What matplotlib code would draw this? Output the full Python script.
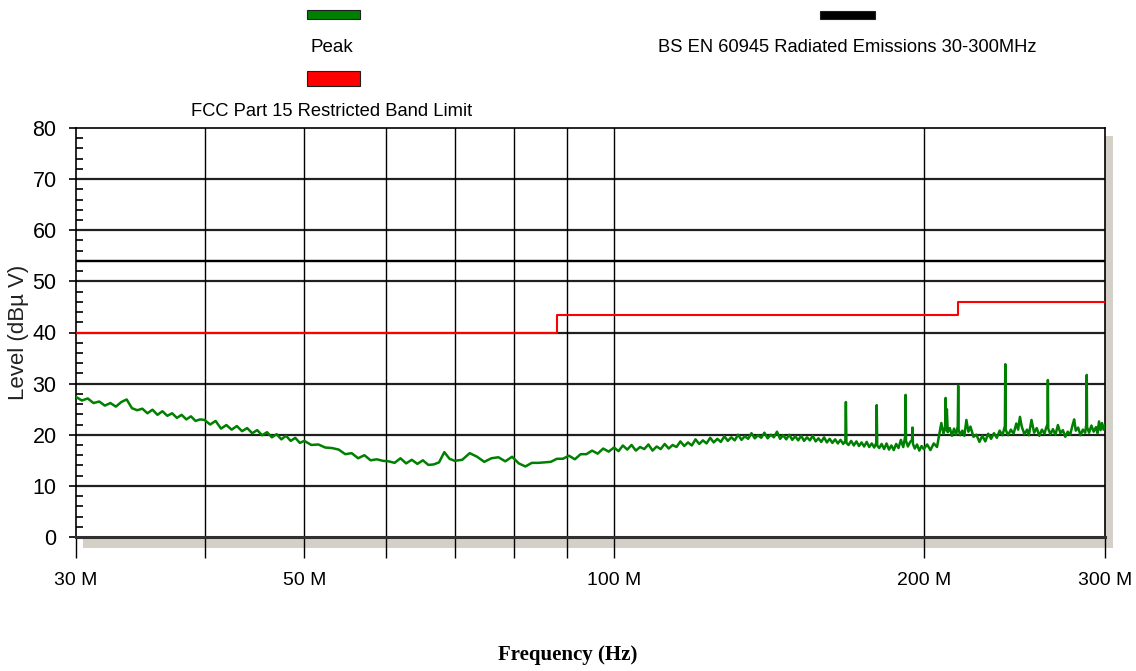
import numpy as np
import matplotlib
matplotlib.use("Agg")
import matplotlib.pyplot as plt
from matplotlib.patches import Rectangle
from matplotlib.ticker import FixedLocator, FixedFormatter, NullLocator

plt.rcParams['font.family'] = ['Liberation Sans', 'DejaVu Sans']

# Peak sweep, frequency in MHz, level in dBuV
peak_freq = [
    30.0, 30.4, 30.8, 31.2, 31.6, 32.0, 32.4, 32.8, 33.2, 33.6, 34.0, 34.4, 34.8,
    35.2, 35.6, 36.0, 36.4, 36.8, 37.2, 37.6, 38.0, 38.4, 38.8, 39.2, 39.6, 40.0,
    40.5, 41.0, 41.5, 42.0, 42.5, 43.0, 43.5, 44.0, 44.5, 45.0, 45.5, 46.0, 46.5,
    47.0, 47.5, 48.0, 48.5, 49.0, 49.5, 50.0,
    50.8, 51.6, 52.4, 53.2, 54.0, 54.8, 55.6, 56.4, 57.2, 58.0, 58.8, 59.6, 60.4,
    61.2, 62.0, 62.8, 63.6, 64.4, 65.2, 66.0, 66.8, 67.6, 68.4, 69.2, 70.0,
    71.2, 72.4, 73.6, 74.8, 76.0, 77.2, 78.4, 79.6, 80.8, 82.0, 83.2, 84.4, 85.6,
    86.8, 88.0, 89.2, 90.4, 91.6, 92.8, 94.0, 95.2, 96.4, 97.6, 98.8, 100.0,
    101, 102, 103, 104, 105, 106, 107, 108, 109, 110, 111, 112, 113, 114, 115,
    116, 117, 118, 119, 120, 121, 122, 123, 124, 125, 126, 127, 128, 129, 130,
    131, 132, 133, 134, 135, 136, 137, 138, 139, 140, 141, 142, 143, 144, 145,
    146, 147, 148, 149, 150, 151, 152, 153, 154, 155, 156, 157, 158, 159, 160,
    161, 162, 163, 164, 165, 166, 167, 167.8, 168, 168.2, 169, 170, 171, 172, 173,
    174, 175, 176, 177, 178, 179, 179.8, 180, 180.2, 181, 182, 183, 184, 185, 186,
    187, 188, 189, 190, 191, 191.8, 192, 192.2, 193, 194, 194.8, 195, 195.2, 196,
    197, 198, 199, 200,
    201.5, 203, 204.5, 206, 207, 208, 209, 209.8, 210, 210.2, 210.6, 211, 212, 213,
    214, 215, 215.8, 216, 216.2, 217, 218, 219, 220, 221, 222, 223.5, 225, 226.5,
    228, 229.5, 231, 232.5, 234, 235.5, 237, 238.5, 239.8, 240, 240.2, 241.5, 243,
    244.5, 246, 247, 248, 249, 250.5, 252, 253, 254.5, 256, 257.5, 259, 260.5, 262,
    263, 263.8, 264, 264.2, 265.5, 267, 268.5, 270, 271.5, 273, 274.5, 276, 277.5,
    279, 280, 281, 282.5, 284, 285.5, 287, 287.8, 288, 288.2, 289.5, 291, 292.5,
    294, 295, 296, 297, 298, 299, 300,
]
peak_level = [
    27.4, 26.7, 27.1, 26.2, 26.5, 25.7, 26.2, 25.5, 26.4, 26.9, 25.2, 24.8, 25.1,
    24.2, 24.9, 23.9, 24.6, 23.7, 24.2, 23.3, 23.9, 23.0, 23.6, 22.7, 23.0, 22.9,
    22.0, 22.7, 21.2, 21.9, 21.0, 21.7, 20.7, 21.3, 20.3, 20.9, 19.9, 20.5, 19.5,
    20.1, 19.1, 19.8, 18.8, 19.4, 18.4, 18.8,
    18.0, 18.1, 17.5, 17.4, 17.1, 16.2, 16.4, 15.4, 16.0, 15.0, 15.2, 14.9, 14.8,
    14.5, 15.4, 14.4, 15.1, 14.3, 15.0, 14.1, 14.2, 14.6, 16.6, 15.3, 14.9,
    15.1, 16.4, 15.7, 14.7, 15.4, 15.6, 14.8, 15.7, 14.4, 13.8, 14.5, 14.5, 14.6,
    14.7, 15.3, 15.3, 15.9, 15.2, 16.2, 16.2, 16.9, 16.3, 17.3, 16.7, 17.5,
    16.8, 17.9, 17.1, 18.0, 16.9, 17.6, 17.2, 18.1, 16.9, 17.7, 17.2, 18.2, 17.3, 18.0, 17.6,
    18.7, 17.8, 18.5, 17.9, 19.1, 18.2, 18.9, 18.3, 19.4, 18.5, 19.2, 18.6, 19.7, 18.8, 19.5,
    18.9, 20.0, 19.0, 19.7, 19.2, 20.3, 19.3, 19.9, 19.4, 20.4, 19.3, 20.0, 19.5, 20.6, 19.2,
    19.9, 19.1, 20.0, 19.0, 19.7, 18.9, 19.8, 18.8, 19.5, 18.9, 19.8, 18.7, 19.3, 18.6, 19.5,
    18.5, 19.2, 18.4, 19.1, 18.3, 19.0, 18.2, 18.8, 26.4, 18.4, 18.0, 18.8, 17.9, 18.7, 17.8,
    18.5, 17.7, 18.6, 17.6, 18.3, 17.5, 18.4, 25.8, 17.9, 17.4, 18.2, 17.2, 18.3, 17.1, 17.9,
    17.0, 18.2, 17.4, 19.0, 17.6, 19.6, 27.8, 18.8, 17.7, 18.6, 19.0, 21.4, 18.2, 17.3,
    18.1, 16.9, 17.8, 17.2,
    18.1, 17.0, 18.3, 17.6, 19.9, 22.3, 20.2, 21.6, 27.2, 20.9, 25.0, 20.5, 21.3, 19.8,
    21.2, 20.0, 21.7, 29.6, 21.0, 19.9, 20.8, 19.8, 22.9, 20.6, 21.6, 19.6, 20.0, 18.6,
    19.8, 18.7, 20.2, 19.2, 20.3, 19.4, 20.8, 19.9, 21.7, 33.8, 21.0, 19.9, 21.0,
    20.2, 22.2, 21.0, 23.5, 21.6, 20.1, 21.0, 19.9, 22.9, 20.4, 21.3, 19.8, 21.0, 20.2,
    21.4, 22.0, 30.7, 21.2, 20.1, 21.1, 20.0, 21.9, 20.3, 20.9, 19.6, 20.6, 20.0,
    21.9, 23.0, 20.8, 21.4, 19.9, 21.0, 20.4, 22.3, 31.7, 21.5, 20.4, 21.8, 20.6,
    21.5, 20.3, 22.6, 20.9, 22.3, 21.0, 21.9,
]

# FCC Part 15 restricted band limit (step edges)
fcc_freq = [30, 88, 88, 216, 216, 300]
fcc_level = [40, 40, 43.5, 43.5, 46, 46]

# BS EN 60945 limit
en_freq = [30, 300]
en_level = [54, 54]

x_ticks = [30, 40, 50, 60, 70, 80, 90, 100, 200, 300]
x_labels = ['30 M', '', '50 M', '', '', '', '', '100 M', '200 M', '300 M']
y_ticks = [0, 10, 20, 30, 40, 50, 60, 70, 80]

W, H = 1136, 671
fig = plt.figure(figsize=(W / 100, H / 100), dpi=100)
ax = fig.add_axes([76 / W, 1 - 537 / H, 1029 / W, 409 / H])

ax.set_xscale('log')
ax.set_xlim(30, 300)
ax.set_ylim(0, 80)

# grid
for y in y_ticks[1:-1] + [54]:
    ax.axhline(y, color='#202020', lw=1.6, zorder=1)
for x in x_ticks[1:-1]:
    ax.axvline(x, color='black', lw=1.0, zorder=1)

ax.plot(en_freq, en_level, color='black', lw=1.6, zorder=2)
ax.plot(fcc_freq, fcc_level, color='#ff0000', lw=1.5, zorder=3)
ax.plot(peak_freq, peak_level, color='#008000', lw=1.8, zorder=4)

# drop shadow
shadow = '#d4d0c8'
ax.add_patch(Rectangle((0.007, -0.027), 1.001, 0.027, transform=ax.transAxes,
                       color=shadow, clip_on=False, zorder=0.5, lw=0))
ax.add_patch(Rectangle((1.0, -0.027), 0.008, 1.007, transform=ax.transAxes,
                       color=shadow, clip_on=False, zorder=0.5, lw=0))

for s in ['left', 'right', 'top']:
    ax.spines[s].set_linewidth(1.2)
ax.spines['bottom'].set_linewidth(2.2)
ax.spines['bottom'].set_color('#303030')

ax.xaxis.set_major_locator(FixedLocator(x_ticks))
ax.xaxis.set_major_formatter(FixedFormatter(x_labels))
ax.xaxis.set_minor_locator(NullLocator())
ax.tick_params(axis='x', which='major', direction='out', length=15, width=1.0,
               pad=10, labelsize=14)

ax.yaxis.set_major_locator(FixedLocator(y_ticks))
ax.yaxis.set_minor_locator(FixedLocator([v for v in range(0, 81, 2) if v % 10]))
ax.tick_params(axis='y', which='major', direction='out', length=5, width=1.2,
               pad=9, labelsize=15.5)
ax.tick_params(axis='y', which='minor', direction='in', length=5, width=1.2)

ax.set_ylabel('Level (dBµ V)', fontsize=16, color='#222222')
ax.yaxis.set_label_coords(-0.046, 0.5)
fig.text(568 / W, 1 - 655 / H, 'Frequency (Hz)',
         family=['Liberation Serif', 'DejaVu Serif'], fontsize=15,
         fontweight='bold', ha='center', va='center')

# legend swatches and captions
def swatch(x0, y0, x1, y1, color):
    fig.add_artist(Rectangle((x0 / W, 1 - y1 / H), (x1 - x0) / W, (y1 - y0) / H,
                             transform=fig.transFigure, facecolor=color,
                             edgecolor='#202020', lw=0.8))

swatch(307, 10, 360, 19, '#008000')
swatch(307, 71, 360, 86, '#ff0000')
swatch(820, 11, 875, 19, 'black')
fig.text(332 / W, 1 - 47 / H, 'Peak', ha='center', va='center', fontsize=13.5)
fig.text(332 / W, 1 - 112 / H, 'FCC Part 15 Restricted Band Limit',
         ha='center', va='center', fontsize=13.2)
fig.text(847 / W, 1 - 47 / H, 'BS EN 60945 Radiated Emissions 30-300MHz',
         ha='center', va='center', fontsize=13.2)

fig.savefig('out.png', dpi=100)
